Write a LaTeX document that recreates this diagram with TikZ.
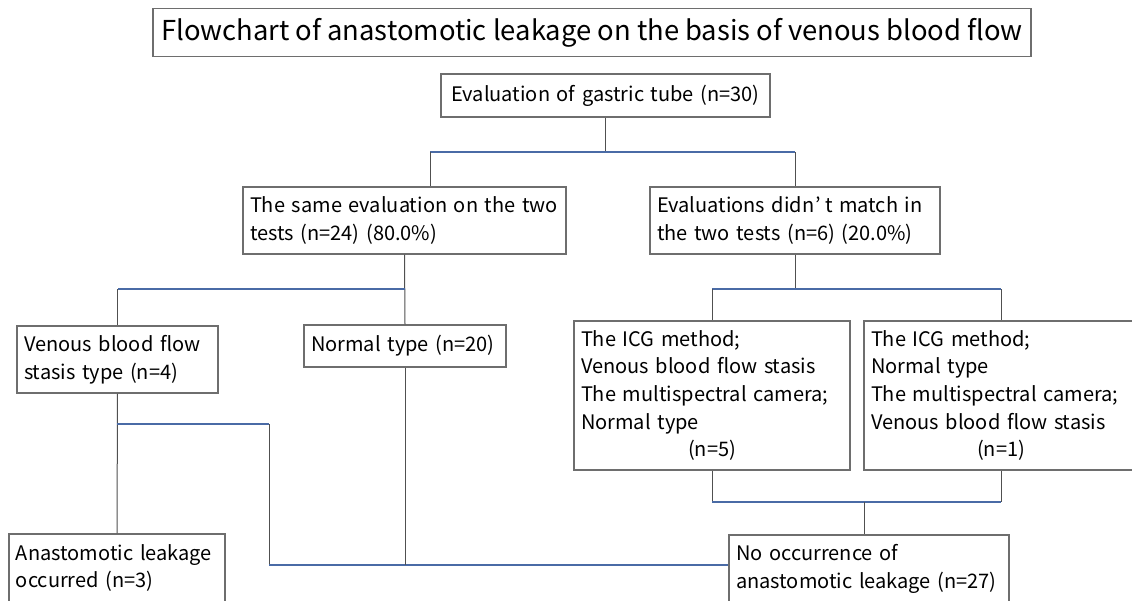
\documentclass[tikz,border=0pt]{standalone}
\usepackage{fontspec}
\setmainfont{Noto Sans CJK JP}
\definecolor{boxgray}{HTML}{6E6E6E}
\definecolor{vgray}{HTML}{505050}
\definecolor{hblue}{HTML}{4A6BA6}
\newcommand{\ctrline}[1]{\hspace*{\fill}#1\hspace*{\fill}\mbox{}}
\begin{document}
\begin{tikzpicture}[x=1pt,y=-1pt,
 box/.style={draw=boxgray, line width=1.1pt, inner xsep=7pt, inner ysep=0pt, align=left, font=\fontsize{20}{27.6}\selectfont},
 vline/.style={draw=vgray, line width=1pt},
 hline/.style={draw=hblue, line width=1.1pt}]
\useasboundingbox (0,0) rectangle (1132,600);
\fill[white] (0,0) rectangle (1132,600);
\node[draw=boxgray, line width=1.6pt, minimum width=878pt, minimum height=48pt, inner sep=0pt, align=center, font=\fontsize{27.4}{32}\selectfont] (title) at (592,32.4) {Flowchart of anastomotic leakage on the basis of venous blood flow};
\node[box, align=center, text width=315pt, minimum height=43pt] (top) at (605.5,95.5) {Evaluation of gastric tube (n=30)};
\node[box, text width=309pt, minimum height=67pt] (L1) at (404.5,220.5) {The same evaluation on the two\\tests (n=24) (80.0\%)};
\node[box, text width=276pt, minimum height=67pt] (R1) at (795,220.5) {Evaluations didn\kern1pt’\kern4pt t match in\\the two tests (n=6) (20.0\%)};
\node[box, text width=187pt, minimum height=67pt] (Ven) at (117.5,359.5) {Venous blood flow\\stasis type (n=4)};
\node[box, text width=188pt, minimum height=42pt] (Norm) at (405,346) {Normal type (n=20)};
\node[box, text width=262pt, minimum height=149pt] (ICG1) at (712,395.5) {The ICG method;\\Venous blood flow stasis\\The multispectral camera;\\Normal type\\\ctrline{(n=5)}};
\node[box, text width=260pt, minimum height=149pt] (ICG2) at (1001,395.5) {The ICG method;\\Normal type\\The multispectral camera;\\Venous blood flow stasis\\\ctrline{(n=1)}};
\node[box, text width=202pt, minimum height=68pt] (Anast) at (117,568) {Anastomotic leakage\\occurred (n=3)};
\node[box, text width=266pt, minimum height=68pt] (NoOcc) at (869,569) {No occurrence of\\anastomotic leakage (n=27)};
% connectors
\coordinate (j1) at (605.5,152);
\coordinate (j1l) at (430,152);
\coordinate (j1r) at (795,152);
\draw[vline] (top.south) -- (j1);
\draw[hline] (j1l) -- (j1r);
\draw[vline] (j1l) -- (j1l |- L1.north);
\draw[vline] (j1r) -- (R1.north);
\coordinate (j2) at (405,289);
\draw[vline] (L1.south) -- (Norm.north);
\draw[hline] (j2) -- (Ven.north |- j2);
\draw[vline] (Ven.north |- j2) -- (Ven.north);
\coordinate (j3) at (795,289);
\draw[vline] (R1.south) -- (j3);
\draw[hline] (ICG1.north |- j3) -- (ICG2.north |- j3);
\draw[vline] (ICG1.north |- j3) -- (ICG1.north);
\draw[vline] (ICG2.north |- j3) -- (ICG2.north);
\coordinate (j4) at (864,502);
\draw[vline] (ICG1.south) -- (ICG1.south |- j4);
\draw[vline] (ICG2.south) -- (ICG2.south |- j4);
\draw[hline] (ICG1.south |- j4) -- (ICG2.south |- j4);
\draw[vline] (j4) -- (j4 |- NoOcc.north);
\draw[vline] (Ven.south) -- (Anast.north);
\coordinate (j5) at (117,424);
\coordinate (j6) at (269,424);
\coordinate (j7) at (269,565);
\draw[hline] (j5) -- (j6);
\draw[vline] (j6) -- (j7);
\draw[hline] (j7) -- (j7 -| NoOcc.west);
\draw[vline] (Norm.south) -- (Norm.south |- j7);
\end{tikzpicture}
\end{document}
